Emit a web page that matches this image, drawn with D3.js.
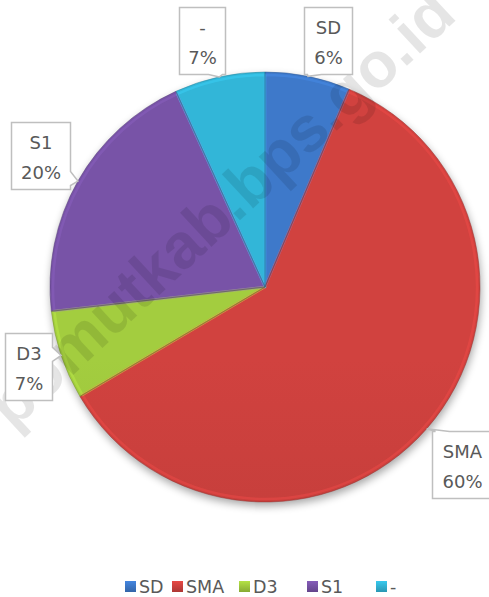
<!DOCTYPE html>
<html><head><meta charset="utf-8">
<script src="https://cdn.jsdelivr.net/npm/d3@7"></script>
<style>body{margin:0;background:#fff}svg{display:block}</style>
</head><body><svg id="c" width="489" height="597"></svg>
<script>
// ---- data ----
const categories = ["SD", "SMA", "D3", "S1", "-"];
const values = [6.4, 60.1, 6.7, 20.0, 6.8];
const colors = ["#3b74c2", "#c83f3c", "#9cc43c", "#7350a0", "#30aecf"];
const watermark = "pomutkab.bps.go.id";

// ---- layout ----
const W = 489, H = 597;
const cx = 265, cy = 287, R = 215;
const labelBoxes = [ // x, y, width (per category)
  [304, 7, 48], [432, 431, 60], [5, 333, 47], [11, 122, 59], [179, 7, 46]
];
const boxH = 67;

const svg = d3.select("#c");
const defs = svg.append("defs");

const shadow = defs.append("filter").attr("id", "sh").attr("x", "-20%").attr("y", "-20%").attr("width", "140%").attr("height", "140%");
shadow.append("feGaussianBlur").attr("stdDeviation", 4);

categories.forEach((c, i) => {
  const g = defs.append("linearGradient").attr("id", "g" + i)
    .attr("gradientUnits", "userSpaceOnUse")
    .attr("x1", 0).attr("y1", cy - R).attr("x2", 0).attr("y2", cy + R);
  const base = d3.color(colors[i]);
  g.append("stop").attr("offset", "0%").attr("stop-color", base.brighter(0.12));
  g.append("stop").attr("offset", "100%").attr("stop-color", base.darker(0.3));
  const lg = defs.append("linearGradient").attr("id", "lg" + i)
    .attr("x1", 0).attr("y1", 0).attr("x2", 0).attr("y2", 1);
  lg.append("stop").attr("offset", "0%").attr("stop-color", base.brighter(0.4));
  lg.append("stop").attr("offset", "100%").attr("stop-color", base.darker(0.4));
});

const pie = d3.pie().sort(null).value(d => d.v).startAngle(0).endAngle(2 * Math.PI);
const data = pie(categories.map((c, i) => ({ c, v: values[i], i })));
const arc = d3.arc().innerRadius(0).outerRadius(R);
const arcIn = d3.arc().innerRadius(0).outerRadius(R - 3);
const edge = d3.arc().innerRadius(R).outerRadius(R);

// shadow
svg.append("circle").attr("cx", cx + 1).attr("cy", cy + 4).attr("r", R)
  .attr("fill", "#000").attr("opacity", 0.35).attr("filter", "url(#sh)");

const pg = svg.append("g").attr("transform", `translate(${cx},${cy})`);
pg.selectAll("path.s").data(data).join("path").attr("class", "s")
  .attr("d", arc).attr("fill", d => `url(#g${d.data.i})`);
// bevel highlight rim
pg.selectAll("path.b").data(data).join("path").attr("class", "b")
  .attr("d", arcIn).attr("fill", "none")
  .attr("stroke", d => d3.color(colors[d.data.i]).brighter(0.6))
  .attr("stroke-width", 2.5).attr("stroke-opacity", 0.4).attr("stroke-linejoin", "round");
pg.selectAll("path.e").data(data).join("path").attr("class", "e")
  .attr("d", arc).attr("fill", "none")
  .attr("stroke", d => d3.color(colors[d.data.i]).darker(0.9))
  .attr("stroke-width", 0.8).attr("stroke-opacity", 0.6);

// watermark
svg.append("text").text(watermark)
  .attr("transform", "translate(224,212) rotate(-42.8)")
  .attr("y", 17).attr("text-anchor", "middle")
  .attr("font-family", "Liberation Sans, Arial, sans-serif").attr("font-weight", "bold")
  .attr("font-size", 64).attr("fill", "#000").attr("fill-opacity", 0.1);

// callout labels
function callout(x0, y0, w, h, tx, ty) {
  const x1 = x0 + w, y1 = y0 + h;
  const cl = (v, a, b) => Math.max(a, Math.min(b, v));
  if (ty > y1) { const m = cl(tx, x0 + 10, x1 - 10);
    return `M${x0},${y0}H${x1}V${y1}H${m + 7}L${tx},${ty}L${m - 7},${y1}H${x0}Z`; }
  if (ty < y0) { const m = cl(tx, x0 + 10, x1 - 10);
    return `M${x0},${y0}H${m - 7}L${tx},${ty}L${m + 7},${y0}H${x1}V${y1}H${x0}Z`; }
  if (tx > x1) { const m = cl(ty, y0 + 10, y1 - 10);
    return `M${x0},${y0}H${x1}V${m - 8}L${tx},${ty}L${x1},${m + 6}V${y1}H${x0}Z`; }
  const m = cl(ty, y0 + 10, y1 - 10);
  return `M${x0},${y0}H${x1}V${y1}H${x0}V${m + 8}L${tx},${ty}L${x0},${m - 8}Z`;
}
const lg = svg.append("g");
data.forEach((d, k) => {
  const [bx, by, bw] = labelBoxes[k];
  const [px, py] = edge.centroid(d);
  const tx = cx + px, ty = cy + py;
  lg.append("path").attr("d", callout(bx + 0.5, by + 0.5, bw, boxH, tx, ty))
    .attr("fill", "#fff").attr("stroke", "#bfbfbf").attr("stroke-width", 1.5);
  const pct = Math.round(d.data.v / d3.sum(values) * 100) + "%";
  [d.data.c, pct].forEach((t, j) => {
    lg.append("text").text(t).attr("x", bx + bw / 2 + 0.5).attr("y", by + 27 + j * 30)
      .attr("text-anchor", "middle").attr("font-family", "DejaVu Sans, sans-serif")
      .attr("font-size", 18).attr("fill", "#595959");
  });
});

// legend
const legX = [125, 172, 239, 307, 376];
const leg = svg.append("g");
categories.forEach((c, i) => {
  leg.append("rect").attr("x", legX[i]).attr("y", 581).attr("width", 11).attr("height", 11)
    .attr("fill", `url(#lg${i})`);
  leg.append("text").text(c).attr("x", legX[i] + 14).attr("y", 592.5)
    .attr("font-family", "DejaVu Sans, sans-serif").attr("font-size", 17.5).attr("fill", "#595959");
});
</script></body></html>
